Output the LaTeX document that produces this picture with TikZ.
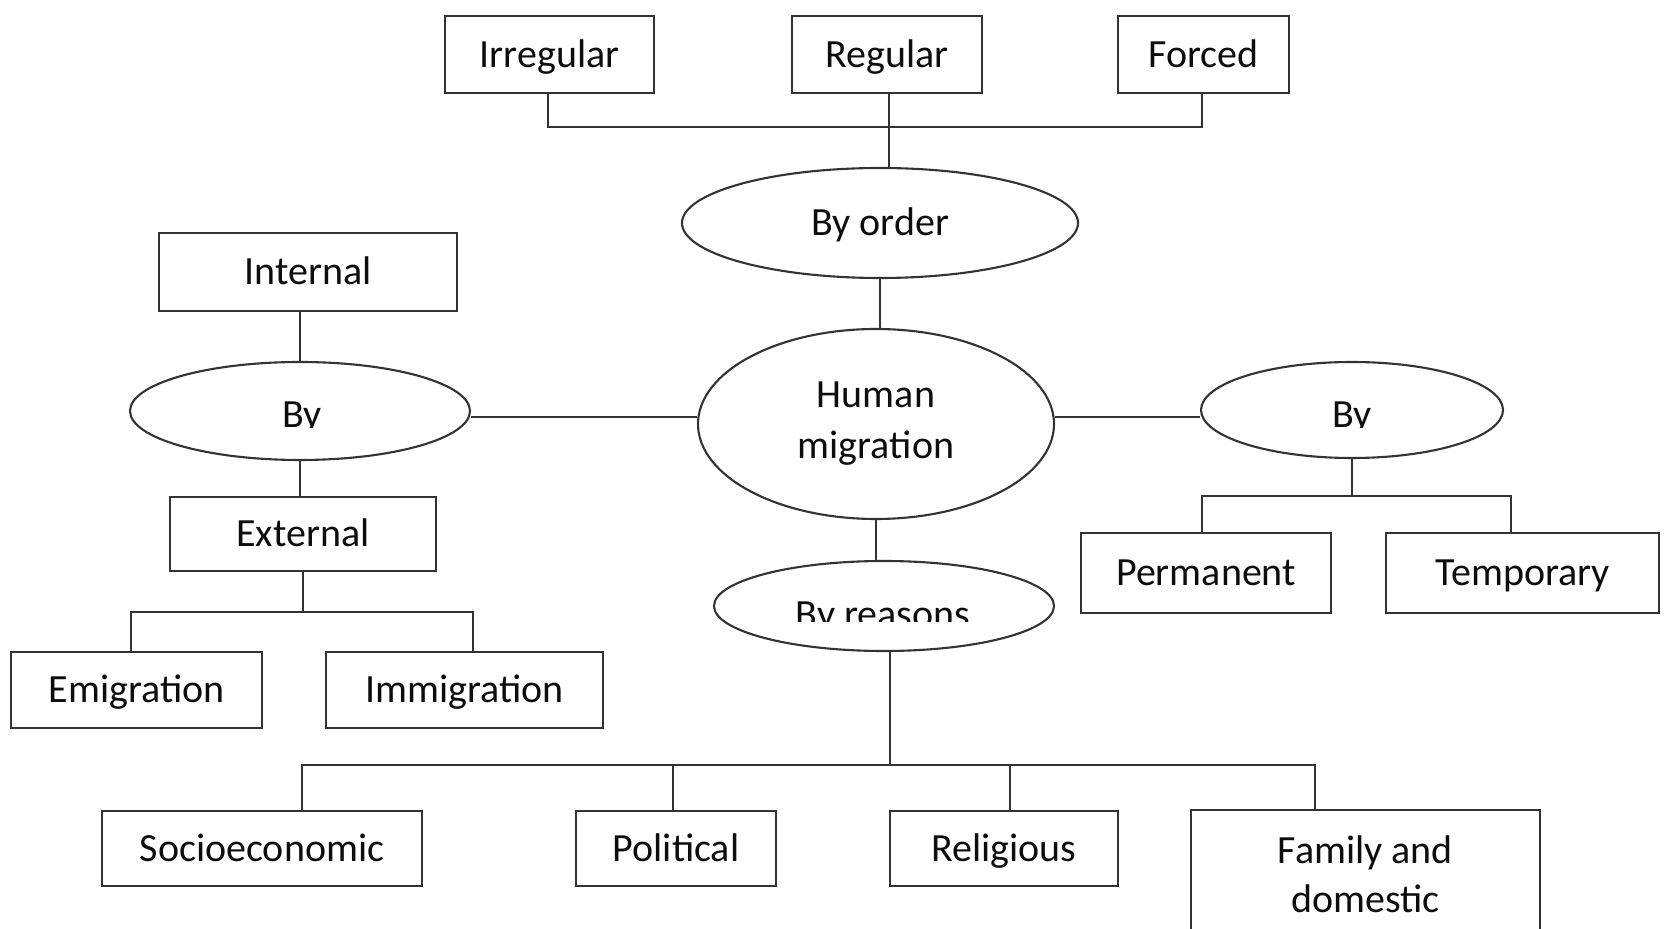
\documentclass[tikz,border=0pt]{standalone}
\usepackage{fontspec}
\setmainfont{Carlito}
\usetikzlibrary{shapes.geometric}
\definecolor{lc}{rgb}{0.2,0.2,0.2}
\definecolor{tc}{rgb}{0.05,0.05,0.05}
\begin{document}
\begin{tikzpicture}[x=0.5pt,y=-0.5pt,
 box/.style={draw=lc,line width=1.05pt,inner sep=0pt,text=tc,font=\fontsize{20}{24.5}\selectfont,text height=13pt,text depth=0pt},
 oval/.style={ellipse,draw=lc,line width=1.05pt,inner sep=0pt,text=tc,font=\fontsize{20}{25.5}\selectfont,align=center},
 lbl/.style={inner sep=0pt,text=tc,font=\fontsize{20}{24.5}\selectfont,align=center},
 con/.style={draw=lc,line width=1.05pt}]
\useasboundingbox (0,0) rectangle (1670,929);
\fill[white] (0,0) rectangle (1670,929);

% boxes
\node[box,minimum width=104.5pt,minimum height=38.5pt] (irr) at (549.5,54.5) {Irregular};
\node[box,minimum width=95pt,minimum height=38.5pt] (reg) at (887,54.5) {Regular};
\node[box,minimum width=85.5pt,minimum height=38.5pt] (forc) at (1203.5,54.5) {Forced};
\node[box,minimum width=149pt,minimum height=39pt] (int) at (308,272) {Internal};
\node[box,minimum width=133pt,minimum height=37pt] (ext) at (303,534) {External};
\node[box,minimum width=125.5pt,minimum height=38pt] (emi) at (136.5,690) {Emigration};
\node[box,minimum width=138.5pt,minimum height=38pt] (imm) at (464.5,690) {Immigration};
\node[box,minimum width=125pt,minimum height=40pt] (perm) at (1206,573) {Permanent};
\node[box,minimum width=136.5pt,minimum height=40pt] (temp) at (1522.5,573) {Temporary};
\node[box,minimum width=160pt,minimum height=37.5pt] (soc) at (262,848.5) {Socioeconomic};
\node[box,minimum width=100pt,minimum height=37.5pt] (pol) at (676,848.5) {Political};
\node[box,minimum width=114pt,minimum height=37.5pt] (rel) at (1004,848.5) {Religious};
\node[draw=lc,line width=1.05pt,inner sep=0pt,minimum width=174.5pt,minimum height=65pt] (fam) at (1365.5,875) {};
\node[lbl] (famt) at (1365.5,874.5) {Family and\\domestic};

% ellipses
\node[oval,minimum width=198pt,minimum height=55pt,text height=13pt,text depth=0pt] (bord) at (880,223) {By order};
\node[oval,minimum width=178pt,minimum height=95pt] (hm) at (876,424) {Human\\migration};
\node[oval,minimum width=170pt,minimum height=49pt] (lby) at (300,411) {};
\node[oval,minimum width=151pt,minimum height=48pt] (rby) at (1352,410) {};
\node[oval,minimum width=170pt,minimum height=45pt] (brs) at (884,606) {};

% clipped labels
\begin{scope}
\clip (200,380) rectangle (400,428);
\node[lbl,anchor=base] (lbyt) at (302,428) {By};
\end{scope}
\begin{scope}
\clip (1250,380) rectangle (1450,428);
\node[lbl,anchor=base] (rbyt) at (1352,428) {By};
\end{scope}
\begin{scope}
\clip (750,585) rectangle (1020,622);
\node[lbl,anchor=base] (brst) at (883,628) {By reasons};
\end{scope}

% top tree
\coordinate (t1) at (548,127);
\coordinate (t2) at (889,127);
\coordinate (t3) at (1202,127);
\draw[con] (irr.south -| t1) -- (t1) -- (t3) -- (forc.south -| t3);
\draw[con] (reg.south -| t2) -- (bord.north -| t2);
\draw[con] (bord.south) -- (bord.south |- hm.north);
\draw[con] (hm.south) -- (hm.south |- brs.north);

% left and right links at the level of the reference
\coordinate (hl) at (0,417);
\draw[con] (lby.east |- hl) -- (hm.west |- hl);
\draw[con] (rby.west |- hl) -- (hm.east |- hl);

% left side
\draw[con] (int.south -| lby.north) -- (lby.north);
\draw[con] (lby.south) -- (lby.south |- ext.north);
\coordinate (e1) at (131,612);
\coordinate (e2) at (473,612);
\draw[con] (ext.south) -- (ext.south |- e1);
\draw[con] (emi.north -| e1) -- (e1) -- (e2) -- (imm.north -| e2);

% right side
\coordinate (r1) at (1202,496);
\coordinate (r2) at (1511,496);
\draw[con] (rby.south) -- (rby.south |- r1);
\draw[con] (perm.north -| r1) -- (r1) -- (r2) -- (temp.north -| r2);

% bottom tree
\coordinate (bm) at (890,765);
\coordinate (b1) at (302,765);
\coordinate (b2) at (673,765);
\coordinate (b3) at (1010,765);
\coordinate (b4) at (1315,765);
\draw[con] (brs.south -| bm) -- (bm);
\draw[con] (soc.north -| b1) -- (b1) -- (b4) -- (fam.north -| b4);
\draw[con] (pol.north -| b2) -- (b2);
\draw[con] (rel.north -| b3) -- (b3);
\end{tikzpicture}
\end{document}
